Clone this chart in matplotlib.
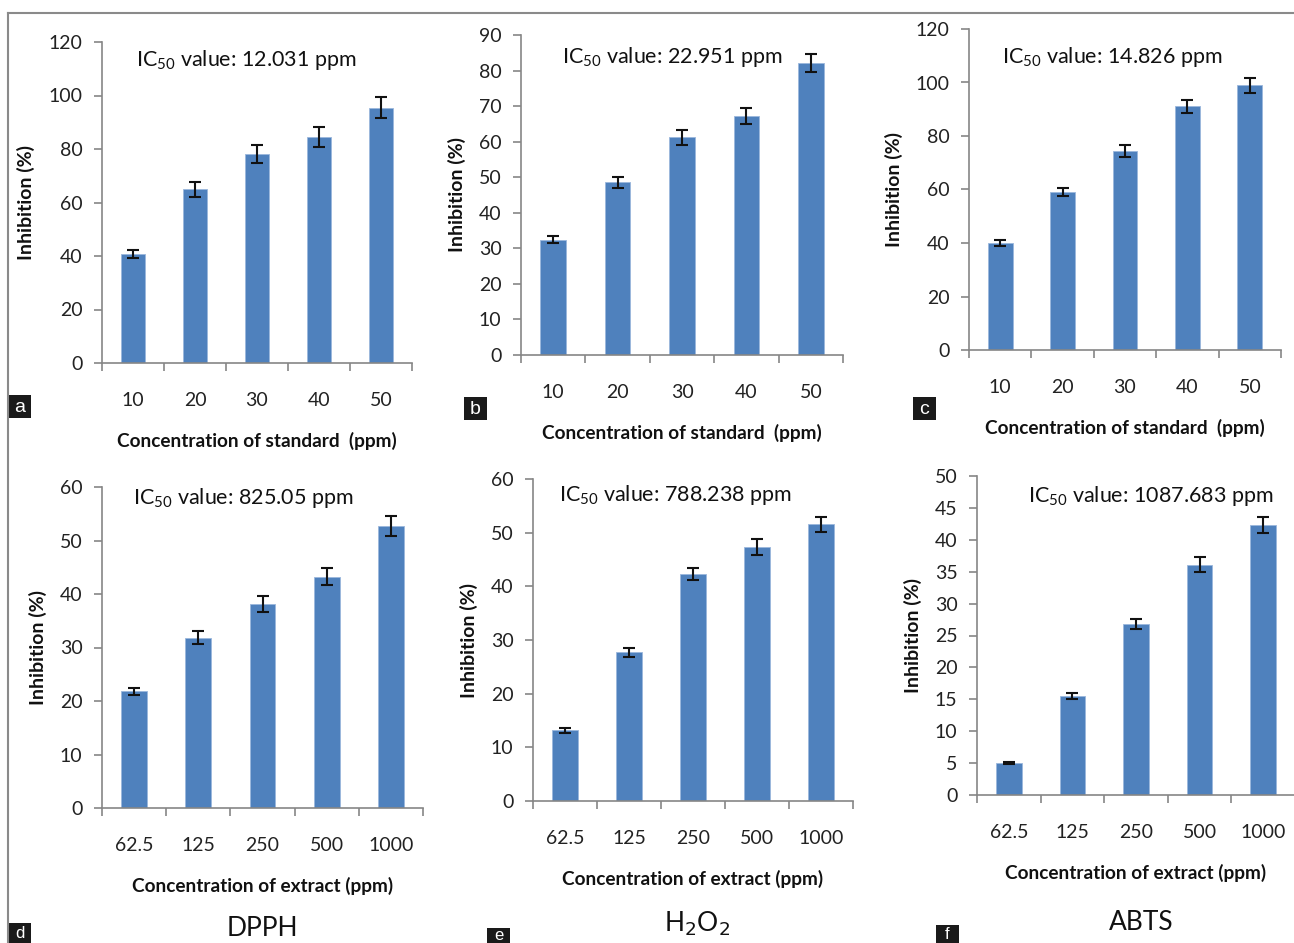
import matplotlib
matplotlib.use("Agg")
import matplotlib.pyplot as plt
from matplotlib.patches import Rectangle
from matplotlib.lines import Line2D

plt.rcParams['font.family'] = ['Lato', 'DejaVu Sans']

# data
std_conc = ['10', '20', '30', '40', '50']
ext_conc = ['62.5', '125', '250', '500', '1000']

dpph_std = [40.6, 65.0, 78.2, 84.6, 95.5]
dpph_std_err = [1.5, 2.8, 3.4, 3.7, 4.0]
h2o2_std = [32.4, 48.6, 61.2, 67.3, 82.1]
h2o2_std_err = [1.0, 1.6, 2.1, 2.3, 2.5]
abts_std = [40.1, 59.0, 74.4, 91.1, 98.9]
abts_std_err = [1.2, 1.4, 2.1, 2.4, 2.7]

dpph_ext = [21.8, 31.8, 38.1, 43.2, 52.7]
dpph_ext_err = [0.7, 1.2, 1.5, 1.6, 1.9]
h2o2_ext = [13.2, 27.7, 42.3, 47.3, 51.6]
h2o2_ext_err = [0.45, 0.9, 1.2, 1.5, 1.4]
abts_ext = [5.0, 15.5, 26.8, 36.1, 42.3]
abts_ext_err = [0.15, 0.5, 0.8, 1.2, 1.25]

ic50_labels = ['12.031', '22.951', '14.826', '825.05', '788.238', '1087.683']
panel_letters = ['a', 'b', 'c', 'd', 'e', 'f']
assay_names = ['DPPH', r'H$_2$O$_2$', 'ABTS']

W, H = 1294, 943
fig = plt.figure(figsize=(W / 100, H / 100), dpi=100)

BAR = '#4F81BD'
GREY = '#868686'


def px_axes(x0, x1, ytop, ybot):
    return fig.add_axes([x0 / W, 1 - ybot / H, (x1 - x0) / W, (ybot - ytop) / H])


# (x0, x1, ytop, ybot, ymax, ystep, ylabel x, ic50 x, ic50 y)
layout = [
    (102, 412, 42, 363, 120, 20, -0.245, 0.11, 0.925),
    (521, 843, 35, 355, 90, 10, -0.20, 0.127, 0.912),
    (969, 1281, 29, 350, 120, 20, -0.24, 0.106, 0.894),
    (102, 423, 487, 808, 60, 10, -0.20, 0.097, 0.947),
    (533, 853, 479, 801, 60, 10, -0.20, 0.081, 0.932),
    (977, 1295, 476, 795, 50, 5, -0.20, 0.16, 0.92),
]
series = [(dpph_std, dpph_std_err), (h2o2_std, h2o2_std_err), (abts_std, abts_std_err),
          (dpph_ext, dpph_ext_err), (h2o2_ext, h2o2_ext_err), (abts_ext, abts_ext_err)]

for i, (lay, (vals, errs)) in enumerate(zip(layout, series)):
    x0, x1, yt, yb, ymax, ystep, ylx, icx, icy = lay
    ax = px_axes(x0, x1, yt, yb)
    cats = std_conc if i < 3 else ext_conc
    pos = list(range(len(cats)))
    ax.bar(pos, vals, width=0.4, color=BAR, edgecolor='#9bb7dc', linewidth=0.6, zorder=2)
    ax.errorbar(pos, vals, yerr=errs, fmt='none', ecolor='#111111', elinewidth=1.5,
                capsize=4, capthick=1.5, zorder=3)
    ax.set_xlim(-0.5, len(cats) - 0.5)
    ax.set_ylim(0, ymax)
    ax.set_yticks(range(0, ymax + 1, ystep))
    ax.set_xticks(pos)
    ax.set_xticklabels(cats)
    ax.set_xticks([p - 0.5 for p in range(len(cats) + 1)], minor=True)
    ax.tick_params(axis='x', which='major', length=0, pad=21, labelsize=14, labelcolor='#222222')
    ax.tick_params(axis='x', which='minor', length=6, width=1.2, color=GREY, direction='out')
    ax.tick_params(axis='y', length=6, width=1.2, color=GREY, pad=8, labelsize=14,
                   labelcolor='#222222')
    for s in ['top', 'right']:
        ax.spines[s].set_visible(False)
    for s in ['left', 'bottom']:
        ax.spines[s].set_color(GREY)
        ax.spines[s].set_linewidth(1.2)
    ax.set_ylabel('Inhibition (%)', fontsize=14, fontweight='bold', color='#111111',
                  va='center')
    ax.yaxis.set_label_coords(ylx, 0.5)
    xlab = 'Concentration of standard  (ppm)' if i < 3 else 'Concentration of extract (ppm)'
    ax.set_xlabel(xlab, fontsize=13.7, fontweight='bold', color='#111111')
    ax.xaxis.set_label_coords(0.5, -0.243)
    ax.xaxis.label.set_va('center')
    ax.text(icx, icy, r'IC$_{\mathregular{50}}$ value: ' + ic50_labels[i] + ' ppm',
            transform=ax.transAxes, ha='left', va='baseline', fontsize=15.5, color='#111111')

# panel letter boxes (x, y of top-left corner in px), bottom row runs off the edge
boxes = [(8, 395), (464, 397), (913, 397), (8, 923), (487, 928), (936, 925)]
for (bx, by), letter in zip(boxes, panel_letters):
    bh = min(23, H - by)
    fig.patches.append(Rectangle((bx / W, 1 - (by + bh) / H), 23 / W, bh / H,
                                 transform=fig.transFigure, facecolor='#1a1a1a',
                                 edgecolor='none'))
    fs = 14 if bh == 23 else 12
    fig.text((bx + 11.5) / W, 1 - (by + bh / 2 + 0.5) / H, letter, color='white', fontsize=fs,
             ha='center', va='center', family='Liberation Sans')

# assay names under the bottom row
name_pos = [(262, 928), (697, 924), (1141, 922)]
for (nx, ny), name in zip(name_pos, assay_names):
    fig.text(nx / W, 1 - ny / H, name, fontsize=19, ha='center', va='center',
             color='#111111')

# outer frame lines
fig.add_artist(Line2D([8 / W, 1], [1 - 13 / H, 1 - 13 / H], color='#8a8a8a', lw=1.5,
                      transform=fig.transFigure))
fig.add_artist(Line2D([8 / W, 8 / W], [1 - 13 / H, 0], color='#8a8a8a', lw=1.5,
                      transform=fig.transFigure))

fig.savefig('out.png', dpi=100)
